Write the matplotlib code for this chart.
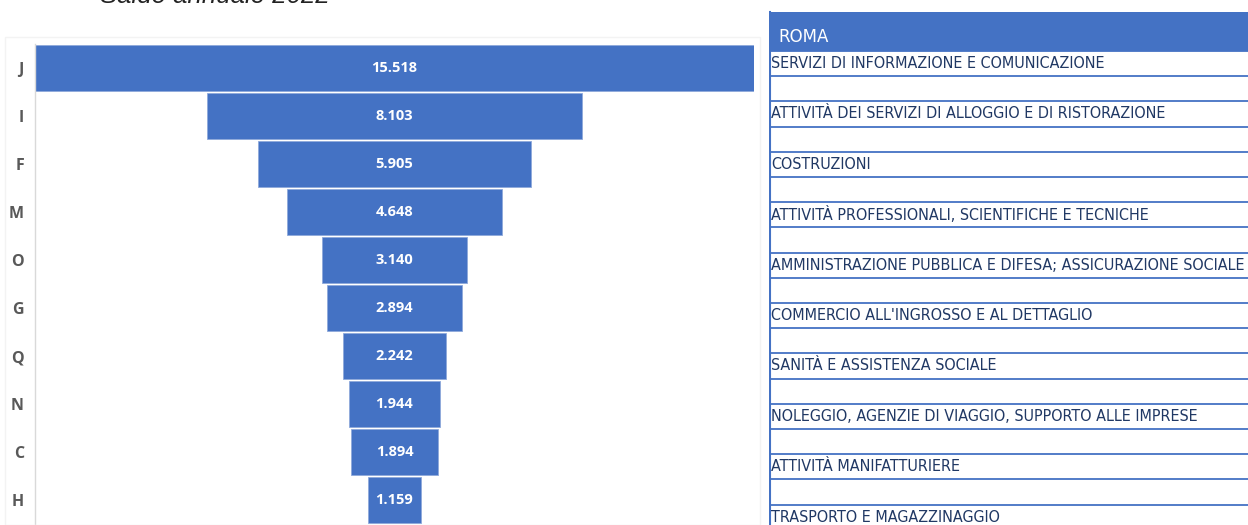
import matplotlib
matplotlib.use("Agg")
import matplotlib.pyplot as plt
from matplotlib.patches import Rectangle
from matplotlib import font_manager as fm

# ---- data ----
categories = ['J', 'I', 'F', 'M', 'O', 'G', 'Q', 'N', 'C', 'H']
values = [15518, 8103, 5905, 4648, 3140, 2894, 2242, 1944, 1894, 1159]
sectors = [
    "SERVIZI DI INFORMAZIONE E COMUNICAZIONE",
    "ATTIVITÀ DEI SERVIZI DI ALLOGGIO E DI RISTORAZIONE",
    "COSTRUZIONI",
    "ATTIVITÀ PROFESSIONALI, SCIENTIFICHE E TECNICHE",
    "AMMINISTRAZIONE PUBBLICA E DIFESA; ASSICURAZIONE SOCIALE",
    "COMMERCIO ALL'INGROSSO E AL DETTAGLIO",
    "SANITÀ E ASSISTENZA SOCIALE",
    "NOLEGGIO, AGENZIE DI VIAGGIO, SUPPORTO ALLE IMPRESE",
    "ATTIVITÀ MANIFATTURIERE",
    "TRASPORTO E MAGAZZINAGGIO",
]
title = "Saldo annuale 2022"
table_header = "ROMA"

BLUE = '#4472C4'
W, H = 1248, 525

fig = plt.figure(figsize=(W / 100, H / 100), dpi=100)
fig.patch.set_facecolor('white')

def fx(px):
    return px / W

def fy(py):  # py measured from top
    return 1 - py / H

# faint chart-area outline
fig.patches.append(Rectangle((fx(5), 0), fx(760) - fx(5), fy(37), transform=fig.transFigure,
                             facecolor='none', edgecolor='#F3F3F3', lw=1.0))

# title (cut off at top, as in the reference)
fig.text(fx(215), fy(3), title, ha='center', va='baseline', fontsize=18.5,
         style='italic', family='Liberation Sans', color='#222222')

# ---- funnel ----
ax = fig.add_axes([fx(35), 0, fx(754) - fx(35), fy(44)])
half = max(values) / 2
lefts = [-v / 2 for v in values]
ypos = list(range(len(categories)))
ax.barh(ypos, values, left=lefts, height=0.94, color=BLUE, edgecolor='#8EA9DB', linewidth=0.6)
for y, v in zip(ypos, values):
    lab = f"{v:,}".replace(',', '.')
    ax.text(0, y, lab, ha='center', va='center', color='white', fontsize=10.5,
            fontweight='bold', family='Open Sans')
ax.set_xlim(-half, half)
ax.set_ylim(9.52, -0.5)
ax.set_yticks(ypos)
ax.set_yticklabels(categories, fontsize=11.5, fontweight='bold', color='#595959', family='Open Sans')
ax.tick_params(axis='y', length=0, pad=8)
ax.set_xticks([])
for s in ['top', 'right', 'bottom']:
    ax.spines[s].set_visible(False)
ax.spines['left'].set_color('#D9D9D9')
ax.spines['left'].set_linewidth(1.0)
ax.set_facecolor('none')

# ---- table ----
names = {f.name for f in fm.fontManager.ttflist}
if 'Liberation Sans Narrow' in names:
    tfam, tstretch, tsize = 'Liberation Sans Narrow', 'normal', 13
else:
    tfam, tstretch, tsize = 'DejaVu Sans', 'condensed', 11.5

tx = fig.add_axes([fx(769), 0, 1 - fx(769), 1])
tx.set_xlim(769, W)
tx.set_ylim(H, 0)
tx.axis('off')
header_top, header_bot, row_h = 12, 51, 25.2
tx.add_patch(Rectangle((769, header_top), W - 769, header_bot - header_top, facecolor=BLUE, edgecolor='none'))
tx.text(778, 37, table_header, ha='left', va='center', color='white', fontsize=12,
        family='DejaVu Sans')
tx.plot([769.5, 769.5], [header_top, H], color=BLUE, lw=1.5)
n_rows = 2 * len(sectors)
for k in range(n_rows):
    yl = header_bot + row_h * k
    if yl < H:
        tx.plot([769, W], [yl, yl], color=BLUE, lw=1.3)
for j, name in enumerate(sectors):
    yc = header_bot + row_h * (2 * j) + row_h / 2
    tx.text(771, yc, name, ha='left', va='center', color='#203864', fontsize=tsize,
            family=tfam, fontstretch=tstretch)

fig.savefig('out.png', dpi=100)
